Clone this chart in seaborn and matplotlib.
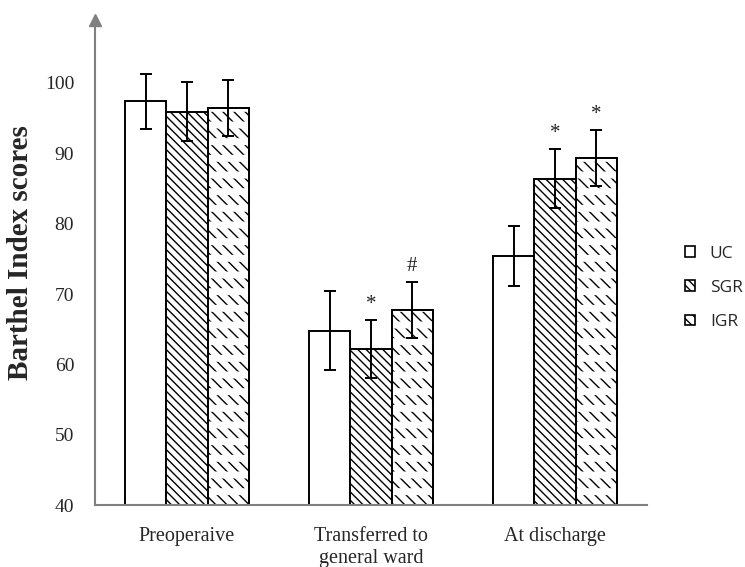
import matplotlib
matplotlib.use("Agg")
import matplotlib.pyplot as plt
import seaborn as sns
import pandas as pd
from matplotlib.patches import Patch

periods = ['Preoperaive', 'Transferred to\ngeneral ward', 'At discharge']
groups = ['UC', 'SGR', 'IGR']

uc_mean = [97.4, 64.8, 75.4]
uc_sd = [3.9, 5.6, 4.2]
sgr_mean = [95.9, 62.2, 86.4]
sgr_sd = [4.2, 4.1, 4.2]
igr_mean = [96.4, 67.7, 89.3]
igr_sd = [4.0, 4.0, 4.0]

uc_marks = ['', '', '']
sgr_marks = ['', '*', '*']
igr_marks = ['', '#', '*']

means = {'UC': uc_mean, 'SGR': sgr_mean, 'IGR': igr_mean}
sds = {'UC': uc_sd, 'SGR': sgr_sd, 'IGR': igr_sd}
marks = {'UC': uc_marks, 'SGR': sgr_marks, 'IGR': igr_marks}

rows = []
for g in groups:
    for p, m in zip(periods, means[g]):
        rows.append({'period': p, 'group': g, 'score': m})
df = pd.DataFrame(rows)

sns.set_style('white')
plt.rcParams['font.family'] = ['Liberation Serif', 'DejaVu Serif']
plt.rcParams['hatch.linewidth'] = 1.0

fig = plt.figure(figsize=(7.45, 5.67), dpi=100)
ax = fig.add_axes([0.1275, 0.1093, 0.7409, 0.856])

sns.barplot(data=df, x='period', y='score', hue='group', hue_order=groups,
            order=periods, palette=['white'] * 3, edgecolor='black',
            linewidth=1.4, errorbar=None, width=0.67, legend=False, ax=ax)

hatches = {'UC': '', 'SGR': '\\\\\\\\', 'IGR': '\\\\\\'}
gray = '#808080'

for g, cont in zip(groups, ax.containers):
    xs = [b.get_x() + b.get_width() / 2 for b in cont]
    w = cont[0].get_width()
    for b in cont:
        b.set_hatch(hatches[g])
    if g == 'IGR':
        # break the diagonal lines into short dashes
        over = ax.bar(xs, means[g], width=w, fill=False, hatch='-',
                      edgecolor='white', linewidth=0, zorder=2)
        for b in over:
            if hasattr(b, 'set_hatch_linewidth'):
                b.set_hatch_linewidth(5)
        ax.bar(xs, means[g], width=w, fill=False, edgecolor='black',
               linewidth=1.4, zorder=2.1)
    ax.errorbar(xs, means[g], yerr=sds[g], fmt='none', ecolor='black',
                elinewidth=1.4, capsize=4, capthick=1.4, zorder=4)
    for x, m, s, t in zip(xs, means[g], sds[g], marks[g]):
        if t:
            ax.annotate(t, (x, m + s), xytext=(0, 11), textcoords='offset points',
                        ha='center', va='center', fontsize=15, color='#222222')

ax.set_xlim(-0.5, 2.5)
ax.set_ylim(40, 109)
ax.set_yticks([40, 50, 60, 70, 80, 90, 100])
ax.tick_params(axis='y', length=0, pad=15, labelsize=14)
ax.tick_params(axis='x', length=0, pad=16, labelsize=14.5)
ax.set_xlabel('')
ax.set_ylabel('Barthel Index scores', fontsize=21, fontweight='bold')
ax.yaxis.set_label_coords(-0.11, 0.52)

for side in ['top', 'right']:
    ax.spines[side].set_visible(False)
for side in ['left', 'bottom']:
    ax.spines[side].set_color(gray)
    ax.spines[side].set_linewidth(1.5)
ax.plot([0], [1], marker='^', markersize=9, color=gray, transform=ax.transAxes,
        clip_on=False)

handles = [Patch(facecolor='white', edgecolor='black', hatch=hatches[g], linewidth=1.2)
           for g in groups]
fig.legend(handles, groups, loc='upper left', bbox_to_anchor=(0.908, 0.582),
           frameon=False, borderpad=0, handlelength=0.57, handleheight=0.57,
           handletextpad=0.85, labelspacing=1.05,
           prop={'family': ['Open Sans', 'DejaVu Sans'], 'size': 12.5})

fig.savefig('out.png', dpi=100)
